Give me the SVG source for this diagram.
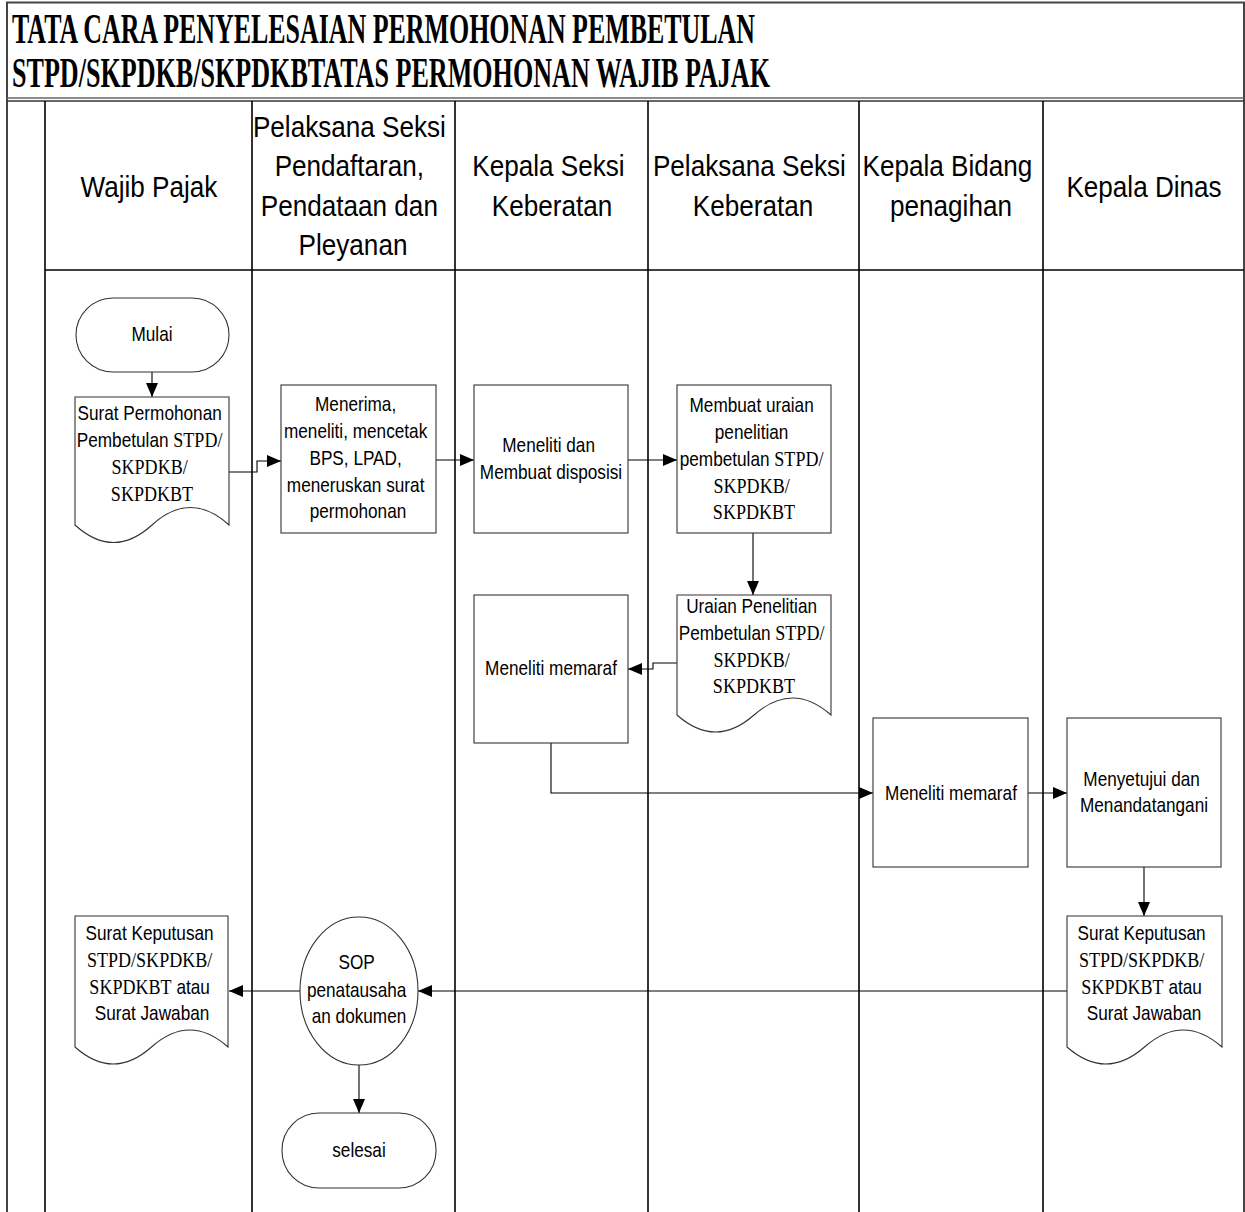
<svg xmlns="http://www.w3.org/2000/svg" width="1245" height="1212" viewBox="0 0 1245 1212">
  <defs>
    <marker id="arrow" viewBox="0 0 14 12" refX="14" refY="6" markerWidth="14" markerHeight="12" markerUnits="userSpaceOnUse" orient="auto">
      <path d="M0,0 L14,6 L0,12 Z" fill="#000"/>
    </marker>
    <style>
      .frame { fill: none; stroke: #444; stroke-width: 2; }
      .lane { fill: none; stroke: #000; stroke-width: 1.6; }
      .shape { fill: #fff; stroke: #333; stroke-width: 1.1; }
      .conn { fill: none; stroke: #000; stroke-width: 1.1; marker-end: url(#arrow); }
      .title { font-family: "Liberation Serif", "Times New Roman", serif; font-weight: bold; font-size: 42px; fill: #000; }
      .h { font-family: "Liberation Sans", Arial, sans-serif; font-size: 30px; text-anchor: middle; fill: #000; }
      .n { font-family: "Liberation Sans", Arial, sans-serif; font-size: 20px; text-anchor: middle; fill: #000; }
      .tm { font-family: "Liberation Serif", "Times New Roman", serif; font-size: 21px; }
    </style>
  </defs>

  <rect width="1245" height="1212" fill="#fff"/>

  <!-- outer frame and title block -->
  <g id="frame">
    <path class="frame" d="M7,1212 V2.5 H1244 V1212"/>
    <line x1="7" y1="98" x2="1244" y2="98" stroke="#666" stroke-width="1.5"/>
    <line x1="7" y1="101" x2="1244" y2="101" stroke="#333" stroke-width="1.5"/>
    <text class="title" x="12" y="43" textLength="743" lengthAdjust="spacingAndGlyphs">TATA CARA PENYELESAIAN PERMOHONAN PEMBETULAN</text>
    <text class="title" x="12" y="87" textLength="758" lengthAdjust="spacingAndGlyphs">STPD/SKPDKB/SKPDKBTATAS PERMOHONAN WAJIB PAJAK</text>
  </g>

  <!-- swimlanes -->
  <g id="lanes">
    <line class="lane" x1="45" y1="101" x2="45" y2="1212"/>
    <line class="lane" x1="252" y1="101" x2="252" y2="1212"/>
    <line class="lane" x1="455" y1="101" x2="455" y2="1212"/>
    <line class="lane" x1="648" y1="101" x2="648" y2="1212"/>
    <line class="lane" x1="859" y1="101" x2="859" y2="1212"/>
    <line class="lane" x1="1043" y1="101" x2="1043" y2="1212"/>
    <line class="lane" x1="45" y1="270" x2="1244" y2="270"/>
    <text class="h" transform="matrix(.87 0 0 1 149 0)"><tspan x="0" y="197">Wajib Pajak</tspan></text>
    <text class="h" transform="matrix(.87 0 0 1 353 0)">
      <tspan x="0" y="137">Pelaksana Seksi</tspan>
      <tspan x="0" y="176">Pendaftaran,</tspan>
      <tspan x="0" y="216">Pendataan dan</tspan>
      <tspan x="0" y="255">Pleyanan</tspan>
    </text>
    <text class="h" transform="matrix(.87 0 0 1 552 0)">
      <tspan x="0" y="176">Kepala Seksi</tspan>
      <tspan x="0" y="216">Keberatan</tspan>
    </text>
    <text class="h" transform="matrix(.87 0 0 1 753 0)">
      <tspan x="0" y="176">Pelaksana Seksi</tspan>
      <tspan x="0" y="216">Keberatan</tspan>
    </text>
    <text class="h" transform="matrix(.87 0 0 1 951 0)">
      <tspan x="0" y="176">Kepala Bidang</tspan>
      <tspan x="0" y="216">penagihan</tspan>
    </text>
    <text class="h" transform="matrix(.87 0 0 1 1144 0)"><tspan x="0" y="197">Kepala Dinas</tspan></text>
  </g>

  <!-- connectors -->
  <g id="connectors">
    <path class="conn" d="M152,372 V397"/>
    <path class="conn" d="M229,472 H257 V461 H281"/>
    <path class="conn" d="M436,460 H474"/>
    <path class="conn" d="M628,460 H677"/>
    <path class="conn" d="M753,533 V595"/>
    <path class="conn" d="M677,663 H653 V669 H628"/>
    <path class="conn" d="M551,743 V793 H873"/>
    <path class="conn" d="M1028,793 H1067"/>
    <path class="conn" d="M1144,867 V916"/>
    <path class="conn" d="M1067,991 H418"/>
    <path class="conn" d="M300,991 H229"/>
    <path class="conn" d="M359,1065 V1113"/>
  </g>

  <!-- Wajib Pajak lane -->
  <g id="mulai">
    <rect class="shape" x="76" y="298" width="153" height="74" rx="37"/>
    <text class="n" transform="matrix(.86 0 0 1 152 0)"><tspan x="0" y="341">Mulai</tspan></text>
  </g>
  <g id="surat-permohonan">
    <path class="shape" d="M75,397 H229 V525 Q190.5,490 152,525 T75,525 Z"/>
    <text class="n" transform="matrix(.86 0 0 1 152 0)">
      <tspan x="0" y="420">Surat Permohonan</tspan>
      <tspan x="0" y="447">Pembetulan <tspan class="tm">STPD/</tspan></tspan>
      <tspan x="0" y="474" class="tm">SKPDKB/</tspan>
      <tspan x="0" y="501" class="tm">SKPDKBT</tspan>
    </text>
  </g>
  <g id="surat-keputusan-wp">
    <path class="shape" d="M75,916 H228 V1047 Q189.75,1013 151.5,1047 T75,1047 Z"/>
    <text class="n" transform="matrix(.86 0 0 1 152 0)">
      <tspan x="0" y="940">Surat Keputusan</tspan>
      <tspan x="0" y="967" class="tm">STPD/SKPDKB/</tspan>
      <tspan x="0" y="994"><tspan class="tm">SKPDKBT</tspan> atau</tspan>
      <tspan x="0" y="1020">Surat Jawaban</tspan>
    </text>
  </g>

  <!-- Pelaksana Seksi Pendaftaran lane -->
  <g id="menerima">
    <rect class="shape" x="281" y="385" width="155" height="148"/>
    <text class="n" transform="matrix(.86 0 0 1 358 0)">
      <tspan x="0" y="411">Menerima,</tspan>
      <tspan x="0" y="438">meneliti, mencetak</tspan>
      <tspan x="0" y="465">BPS, LPAD,</tspan>
      <tspan x="0" y="492">meneruskan surat</tspan>
      <tspan x="0" y="518">permohonan</tspan>
    </text>
  </g>
  <g id="sop">
    <ellipse class="shape" cx="359" cy="991" rx="59" ry="74"/>
    <text class="n" transform="matrix(.86 0 0 1 359 0)">
      <tspan x="0" y="969">SOP</tspan>
      <tspan x="0" y="997">penatausaha</tspan>
      <tspan x="0" y="1023">an dokumen</tspan>
    </text>
  </g>
  <g id="selesai">
    <rect class="shape" x="282" y="1113" width="154" height="75" rx="37"/>
    <text class="n" transform="matrix(.86 0 0 1 359 0)"><tspan x="0" y="1157">selesai</tspan></text>
  </g>

  <!-- Kepala Seksi Keberatan lane -->
  <g id="disposisi">
    <rect class="shape" x="474" y="385" width="154" height="148"/>
    <text class="n" transform="matrix(.86 0 0 1 551 0)">
      <tspan x="0" y="452">Meneliti dan</tspan>
      <tspan x="0" y="479">Membuat disposisi</tspan>
    </text>
  </g>
  <g id="memaraf-kasi">
    <rect class="shape" x="474" y="595" width="154" height="148"/>
    <text class="n" transform="matrix(.86 0 0 1 551 0)"><tspan x="0" y="675">Meneliti memaraf</tspan></text>
  </g>

  <!-- Pelaksana Seksi Keberatan lane -->
  <g id="membuat-uraian">
    <rect class="shape" x="677" y="385" width="154" height="148"/>
    <text class="n" transform="matrix(.86 0 0 1 754 0)">
      <tspan x="0" y="412">Membuat uraian</tspan>
      <tspan x="0" y="439">penelitian</tspan>
      <tspan x="0" y="466">pembetulan <tspan class="tm">STPD/</tspan></tspan>
      <tspan x="0" y="493" class="tm">SKPDKB/</tspan>
      <tspan x="0" y="519" class="tm">SKPDKBT</tspan>
    </text>
  </g>
  <g id="uraian-penelitian">
    <path class="shape" d="M677,595 H831 V715 Q792.5,681 754,715 T677,715 Z"/>
    <text class="n" transform="matrix(.86 0 0 1 754 0)">
      <tspan x="0" y="613">Uraian Penelitian</tspan>
      <tspan x="0" y="640">Pembetulan <tspan class="tm">STPD/</tspan></tspan>
      <tspan x="0" y="667" class="tm">SKPDKB/</tspan>
      <tspan x="0" y="693" class="tm">SKPDKBT</tspan>
    </text>
  </g>

  <!-- Kepala Bidang penagihan lane -->
  <g id="memaraf-kabid">
    <rect class="shape" x="873" y="718" width="155" height="149"/>
    <text class="n" transform="matrix(.86 0 0 1 951 0)"><tspan x="0" y="800">Meneliti memaraf</tspan></text>
  </g>

  <!-- Kepala Dinas lane -->
  <g id="menyetujui">
    <rect class="shape" x="1067" y="718" width="154" height="149"/>
    <text class="n" transform="matrix(.86 0 0 1 1144 0)">
      <tspan x="0" y="786">Menyetujui dan</tspan>
      <tspan x="0" y="812">Menandatangani</tspan>
    </text>
  </g>
  <g id="surat-keputusan-kadis">
    <path class="shape" d="M1067,916 H1222 V1047 Q1183.25,1013 1144.5,1047 T1067,1047 Z"/>
    <text class="n" transform="matrix(.86 0 0 1 1144 0)">
      <tspan x="0" y="940">Surat Keputusan</tspan>
      <tspan x="0" y="967" class="tm">STPD/SKPDKB/</tspan>
      <tspan x="0" y="994"><tspan class="tm">SKPDKBT</tspan> atau</tspan>
      <tspan x="0" y="1020">Surat Jawaban</tspan>
    </text>
  </g>
</svg>
